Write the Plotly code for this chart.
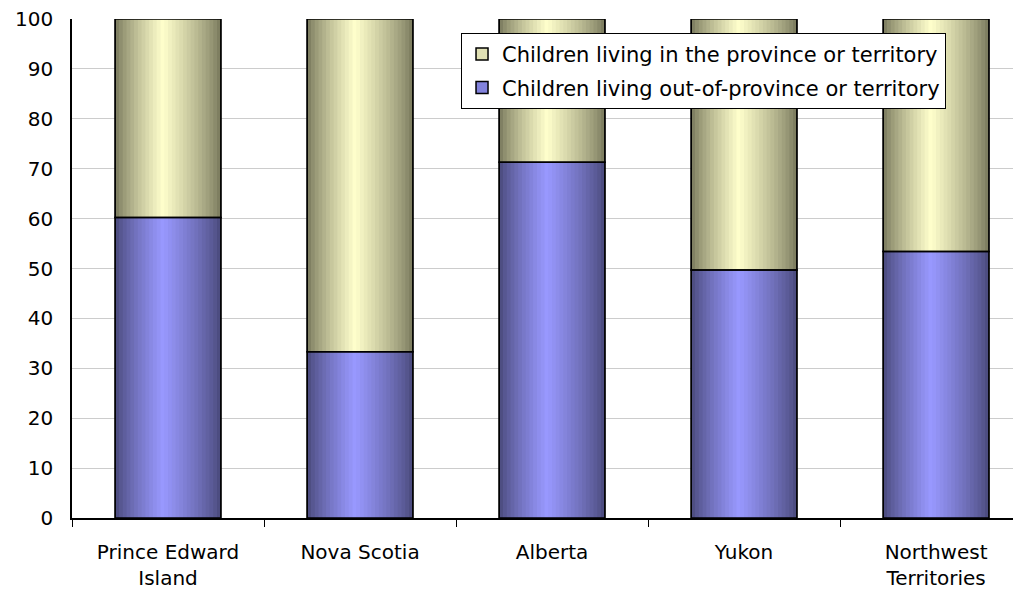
import plotly.graph_objects as go

categories = ["Prince Edward<br>Island", "Nova Scotia", "Alberta", "Yukon", "Northwest<br>Territories"]
out_of_province = [60.2, 33.3, 71.3, 49.7, 53.4]
in_province = [round(100 - v, 1) for v in out_of_province]
series_names = ["Children living in the province or territory",
                "Children living out-of-province or territory"]
y_ticks = list(range(0, 101, 10))

BAR_W = 0.55
N = 28

def shade(dark, light, t):
    peak = 0.45
    f = 1 - abs(t - peak) / (peak if t < peak else 1 - peak)
    f = max(0.0, min(1.0, f)) ** 0.8
    c = [round(d + (l - d) * f) for d, l in zip(dark, light)]
    return f"rgb({c[0]},{c[1]},{c[2]})"

blue_dark, blue_light = (72, 72, 120), (153, 153, 255)
yel_dark, yel_light = (118, 118, 90), (255, 255, 204)

fig = go.Figure()

# legend / base traces (covered by gradient strips)
fig.add_trace(go.Bar(x=categories, y=in_province, base=out_of_province, width=BAR_W,
                     name=series_names[0], legendgroup="a",
                     marker=dict(color="rgb(225,225,180)", line=dict(color="black", width=1.5)),
                     hoverinfo="skip", legendrank=1))
fig.add_trace(go.Bar(x=categories, y=out_of_province, width=BAR_W,
                     name=series_names[1], legendgroup="b",
                     marker=dict(color="rgb(130,130,220)", line=dict(color="black", width=1.5)),
                     hoverinfo="skip", legendrank=2))

sw = BAR_W / N
for i in range(N):
    t = (i + 0.5) / N
    off = -BAR_W / 2 + i * sw
    w = sw * 1.6 if i < N - 1 else sw
    fig.add_trace(go.Bar(x=categories, y=out_of_province, width=w, offset=off,
                         marker=dict(color=shade(blue_dark, blue_light, t), line=dict(width=0)),
                         showlegend=False, hoverinfo="skip"))
    fig.add_trace(go.Bar(x=categories, y=in_province, base=out_of_province, width=w, offset=off,
                         marker=dict(color=shade(yel_dark, yel_light, t), line=dict(width=0)),
                         showlegend=False, hoverinfo="skip"))

# outlines
fig.add_trace(go.Bar(x=categories, y=out_of_province, width=BAR_W,
                     marker=dict(color="rgba(0,0,0,0)", line=dict(color="black", width=1.5)),
                     showlegend=False, hoverinfo="skip"))
fig.add_trace(go.Bar(x=categories, y=in_province, base=out_of_province, width=BAR_W,
                     marker=dict(color="rgba(0,0,0,0)", line=dict(color="black", width=1.5)),
                     showlegend=False, hoverinfo="skip"))

font = "DejaVu Sans, Verdana, sans-serif"
FS = 20
fig.update_layout(
    width=1021, height=592,
    barmode="overlay",
    margin=dict(l=64, r=0, t=11, b=82),
    paper_bgcolor="white", plot_bgcolor="white",
    font=dict(family=font, size=FS, color="black"),
    showlegend=True,
    legend=dict(x=0.4065, y=0.972, xanchor="left", yanchor="top",
                bgcolor="white", bordercolor="black", borderwidth=1,
                font=dict(family=font, size=21, color="black"),
                traceorder="grouped", tracegroupgap=3, itemwidth=30),
    xaxis=dict(range=[-0.5, 4.484], showline=True, linecolor="black", linewidth=1.5,
               ticks="outside", tickson="boundaries", ticklen=7, tickcolor="black",
               showgrid=False, tickfont=dict(size=FS), ticklabelstandoff=15),
    yaxis=dict(range=[0, 100], tickvals=y_ticks, showline=True, linecolor="black",
               linewidth=1.5, showgrid=True, gridcolor="#cccccc", gridwidth=1,
               ticks="", tickfont=dict(size=FS), zeroline=False, ticklabelstandoff=13,
               ticklabeloverflow="allow"),
)

fig.write_html("out.html")
